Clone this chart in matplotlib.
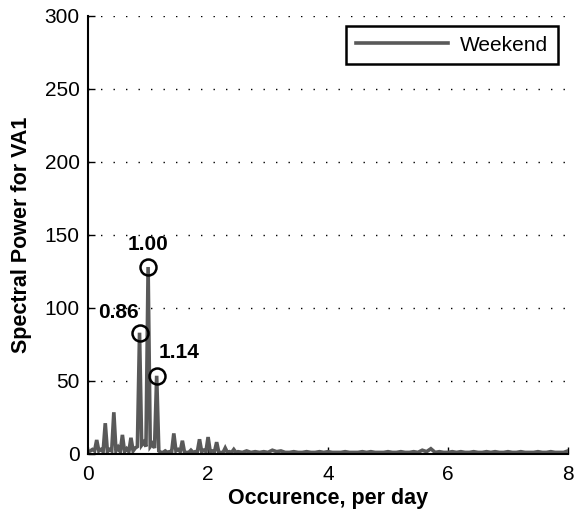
import numpy as np
import matplotlib
matplotlib.use("Agg")
import matplotlib.pyplot as plt

plt.rcParams['font.family'] = ['Liberation Sans', 'DejaVu Sans']

# Spectral power, fine grid (step 1/28 per day) from 0 to 2.5 cycles/day
power_low = [
    1.5, 2.0, 3.0, 2.0, 9.5, 2.0, 3.0, 1.5,
    21.0, 1.5, 3.0, 2.0, 28.5, 2.0, 4.5, 1.5,
    13.0, 1.5, 3.5, 1.5, 11.0, 2.0, 4.0, 5.0,
    83.0, 6.0, 8.0, 5.0, 128.0, 5.0, 7.0, 4.0,
    53.5, 2.0, 1.0, 1.0, 2.0, 1.0, 1.5, 1.5,
    14.0, 2.0, 3.0, 1.5, 9.0, 1.0, 1.0, 1.0,
    2.5, 1.0, 1.5, 1.5, 10.0, 1.5, 2.5, 1.5,
    11.5, 1.5, 2.0, 1.5, 8.0, 1.0, 1.0, 1.0,
    4.0, 1.0, 1.5, 1.0, 3.0, 1.0, 1.5,
]
# Spectral power, coarse grid (step 1/14 per day) above 2.5 cycles/day
power_high = [
    1.0, 2.0, 1.0, 1.5, 1.0, 1.5, 1.0, 2.5, 1.5, 2.0,
    1.0, 1.0, 1.5, 1.0, 1.0, 1.5, 1.0, 1.0, 1.5, 1.0,
    1.5, 1.0, 1.0, 1.0, 1.5, 1.0, 1.0, 1.0, 1.5, 1.0,
    1.5, 1.0, 1.0, 1.0, 1.5, 1.0, 1.0, 1.5, 1.0, 1.0,
    1.5, 1.0, 2.5, 1.5, 3.5, 1.0, 1.5, 1.0, 1.0, 1.5,
    1.0, 1.5, 1.0, 1.0, 1.5, 1.0, 1.0, 1.5, 1.0, 1.5,
    1.0, 1.0, 1.5, 1.0, 1.0, 1.5, 1.0, 1.0, 1.0, 1.5,
    1.0, 1.0, 1.5, 1.0, 1.0, 1.0, 2.0,
]
freq_low = np.arange(len(power_low)) / 28.0
freq_high = 2.5 + np.arange(1, len(power_high) + 1) / 14.0
freq = np.concatenate([freq_low, freq_high])
power = np.array(power_low + power_high)

# Highlighted peaks
peak_freqs = [0.857, 1.0, 1.143]
peak_powers = [83.0, 128.0, 53.5]
peak_labels = ["0.86", "1.00", "1.14"]
label_offsets = [(-15, 14.5), (0, 16.5), (16, 17)]

x_ticks = [0, 2, 4, 6, 8]
y_ticks = [0, 50, 100, 150, 200, 250, 300]

fig = plt.figure(figsize=(5.76, 5.14), dpi=100)
ax = fig.add_axes([0.153, 0.117, 0.833, 0.852])

line_color = '#595959'
ax.plot(freq, power, color=line_color, lw=2.6, label='Weekend', solid_joinstyle='miter')
ax.plot(peak_freqs, peak_powers, 'o', ms=11.5, mfc='none', mec='black', mew=1.8)
for f, p, lab, off in zip(peak_freqs, peak_powers, peak_labels, label_offsets):
    ax.annotate(lab, (f, p), xytext=off, textcoords='offset points',
                ha='center', va='center', fontsize=15, fontweight='bold')

ax.set_xlim(0, 8)
ax.set_ylim(0, 300)
ax.set_xticks(x_ticks)
ax.set_yticks(y_ticks)
ax.tick_params(direction='in', length=5, width=1, labelsize=15)
ax.tick_params(axis='x', pad=8)
ax.tick_params(axis='y', pad=6)
for s in ['top', 'right']:
    ax.spines[s].set_visible(False)
for s in ['left', 'bottom']:
    ax.spines[s].set_linewidth(1.5)
ax.yaxis.grid(True, linestyle=(0, (1, 8)), color='black', lw=1)
ax.set_axisbelow(True)

ax.set_xlabel('Occurence, per day', fontsize=15.5, fontweight='bold', labelpad=3)
ax.set_ylabel('Spectral Power for VA1', fontsize=15.5, fontweight='bold', labelpad=9)

leg = ax.legend(loc='upper right', fontsize=15, handlelength=4.4, fancybox=False,
                framealpha=1, edgecolor='black', borderaxespad=0.5, borderpad=0.45,
                handletextpad=0.6)
leg.get_frame().set_linewidth(1.8)

fig.savefig('out.png', dpi=100)
